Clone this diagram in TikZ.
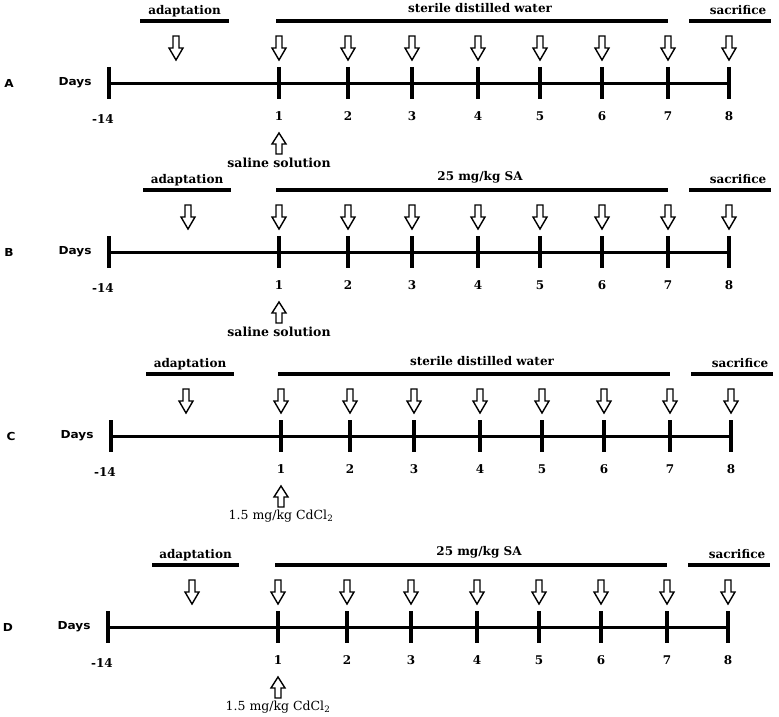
\documentclass[tikz,border=0pt]{standalone}
\usepackage{fontspec}
\setmainfont{DejaVu Serif}
\newfontfamily\sansbf{DejaVu Sans}[FakeStretch=1.1]
\tikzset{
  axisline/.style={line width=3pt},
  tickline/.style={line width=4.5pt},
  barline/.style={line width=4pt},
  arrowshape/.style={draw=black, line width=1.4pt, fill=white, line join=miter},
  lbl/.style={font=\fontsize{12}{14}\selectfont\bfseries, inner sep=0pt},
  reg/.style={font=\fontsize{12.5}{14}\selectfont, inner sep=0pt},
  sanslbl/.style={font=\fontsize{11}{13}\selectfont\sansbf\bfseries, inner sep=0pt},
  downarrow/.pic={\draw[arrowshape] (-3,0) -- (3,0) -- (3,12) -- (7,12) -- (0,24) -- (-7,12) -- (-3,12) -- cycle;},
  uparrow/.pic={\draw[arrowshape] (0,0) -- (7,11) -- (3,11) -- (3,21) -- (-3,21) -- (-3,11) -- (-7,11) -- cycle;}
}
% #1 prefix, #2 axis y, #3 letter, #4 main label, #5 bottom label,
% #6 x shift, #7 adaptation arrow x, #8/#9 adaptation bar ends
\newcommand\tlpanel[9]{%
\begin{scope}[shift={(#6,#2)}]
  \node[sanslbl] (#1-letter) at (9,0) {#3};
  \node[sanslbl] (#1-days) at (75,0) {Days};
  \draw[axisline] (109,0) -- (729,0);
  \foreach \d/\x in {1/279,2/348,3/412,4/478,5/540,6/602,7/668,8/729} {
    \draw[tickline] (\x,-16) -- (\x,16);
    \node[lbl] (#1-n\d) at (\x,33) {\d};
    \pic at (\x,-47) {downarrow};
  }
  \draw[tickline] (109,-16) -- (109,16);
  \node[lbl] (#1-n0) at (103,36) {-14};
  \pic at (#7,-47) {downarrow};
  \draw[barline] (#8,-62) -- (#9,-62);
  \draw[barline] (276,-62) -- (668,-62);
  \draw[barline] (689,-62) -- (771,-62);
  \node[lbl] (#1-adapt) at ({(#8+#9)/2},-72) {adaptation};
  \node[lbl] (#1-main) at (480,-75) {#4};
  \node[lbl] (#1-sac) at (738,-73) {sacrifice};
  \pic at (279,50) {uparrow};
  \node[reg] (#1-bottom) at (279,80) {#5};
\end{scope}}
\begin{document}
\begin{tikzpicture}[x=1pt,y=-1pt]
  \useasboundingbox[fill=white] (0,0) rectangle (779,717);
  \tlpanel{A}{83}{A}{sterile distilled water}{\bfseries saline solution}{0}{176}{140}{229}
  \tlpanel{B}{252}{B}{25 mg/kg SA}{\bfseries saline solution}{0}{188}{143}{231}
  \tlpanel{C}{436}{C}{sterile distilled water}{1.5 mg/kg CdCl\textsubscript{2}}{2}{184}{144}{232}
  \tlpanel{D}{627}{D}{25 mg/kg SA}{1.5 mg/kg CdCl\textsubscript{2}}{-1}{193}{153}{240}
\end{tikzpicture}
\end{document}
